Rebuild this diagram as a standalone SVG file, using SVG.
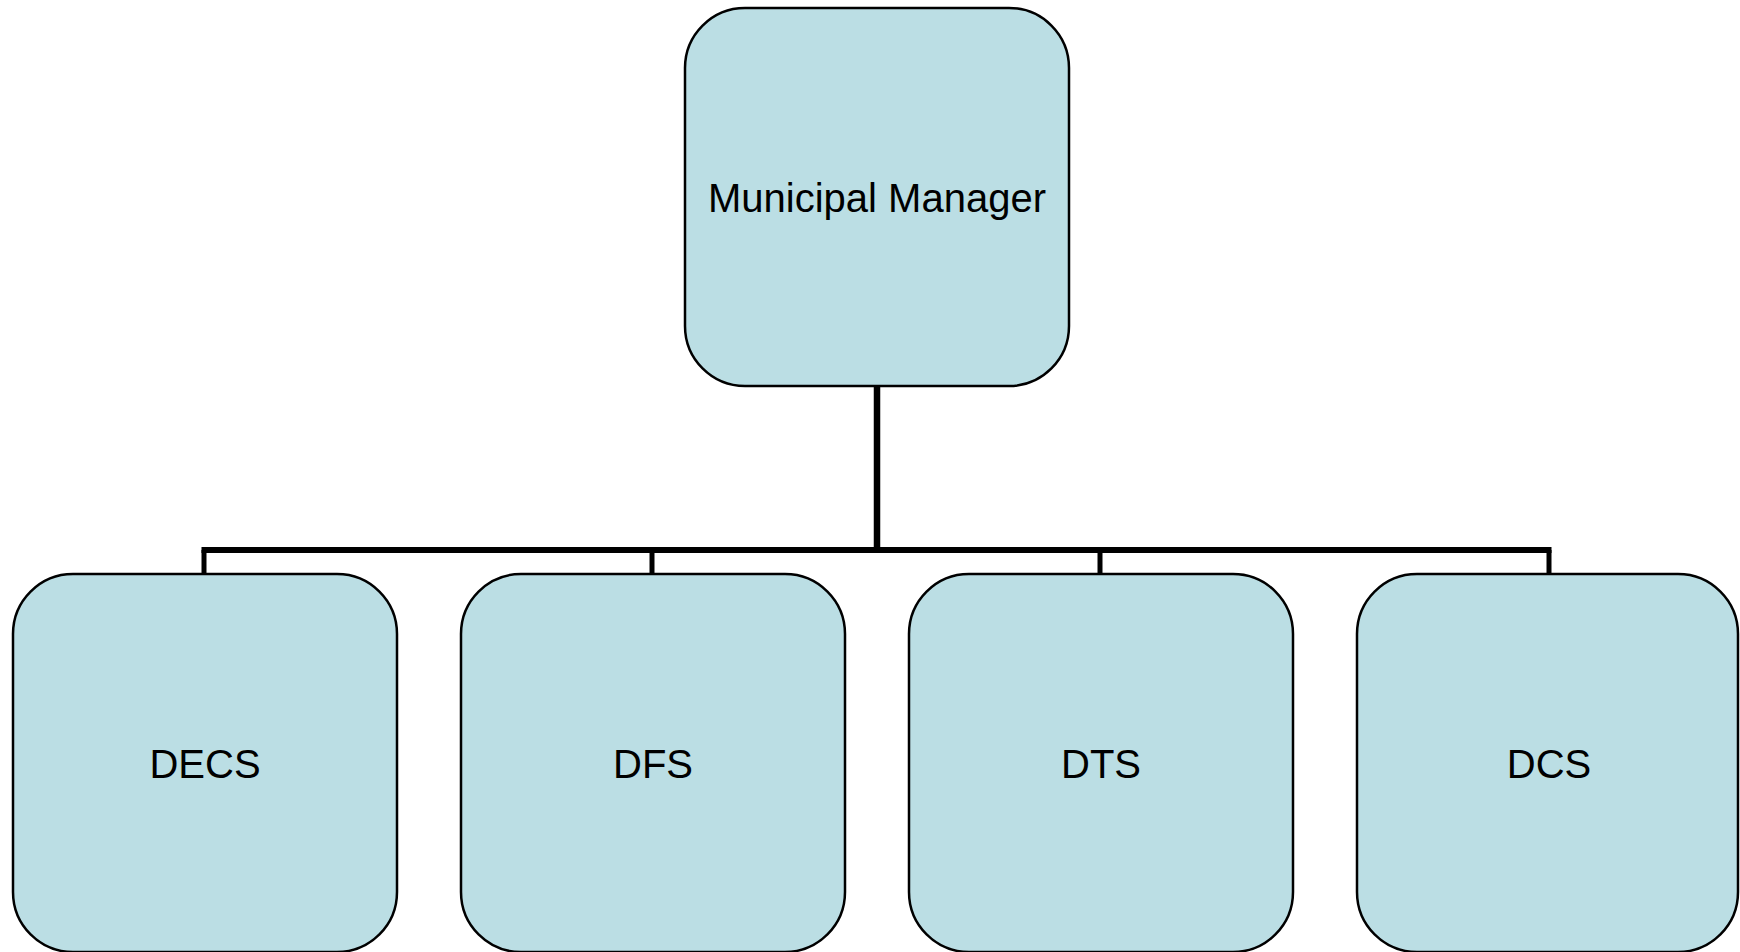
<svg xmlns="http://www.w3.org/2000/svg" width="1740" height="952" viewBox="0 0 1740 952">
<style>
.box{fill:#BBDEE4;stroke:#000;stroke-width:2.5}
.lbl{font-family:"Liberation Sans",Arial,sans-serif;font-size:40px;fill:#000;text-anchor:middle}
.conn{stroke:#000;fill:none;stroke-linecap:butt}
</style>
<rect width="1740" height="952" fill="#fff"/>
<g id="connectors">
<line class="conn" x1="877" y1="386" x2="877" y2="553" stroke-width="6.5"/>
<line class="conn" x1="201.5" y1="550" x2="1551.5" y2="550" stroke-width="6"/>
<line class="conn" x1="204" y1="550" x2="204" y2="574" stroke-width="5"/>
<line class="conn" x1="652" y1="550" x2="652" y2="574" stroke-width="5"/>
<line class="conn" x1="1100" y1="550" x2="1100" y2="574" stroke-width="5"/>
<line class="conn" x1="1549" y1="550" x2="1549" y2="574" stroke-width="5"/>
</g>
<g id="node-mm">
<rect class="box" x="685" y="8" width="384" height="378" rx="60" ry="60"/>
<text class="lbl" x="877" y="212">Municipal Manager</text>
</g>
<g id="node-decs">
<rect class="box" x="13" y="574" width="384" height="378" rx="60" ry="60"/>
<text class="lbl" x="205" y="778">DECS</text>
</g>
<g id="node-dfs">
<rect class="box" x="461" y="574" width="384" height="378" rx="60" ry="60"/>
<text class="lbl" x="653" y="778">DFS</text>
</g>
<g id="node-dts">
<rect class="box" x="909" y="574" width="384" height="378" rx="60" ry="60"/>
<text class="lbl" x="1101" y="778">DTS</text>
</g>
<g id="node-dcs">
<rect class="box" x="1357" y="574" width="381" height="378" rx="60" ry="60"/>
<text class="lbl" x="1549" y="778">DCS</text>
</g>
</svg>
